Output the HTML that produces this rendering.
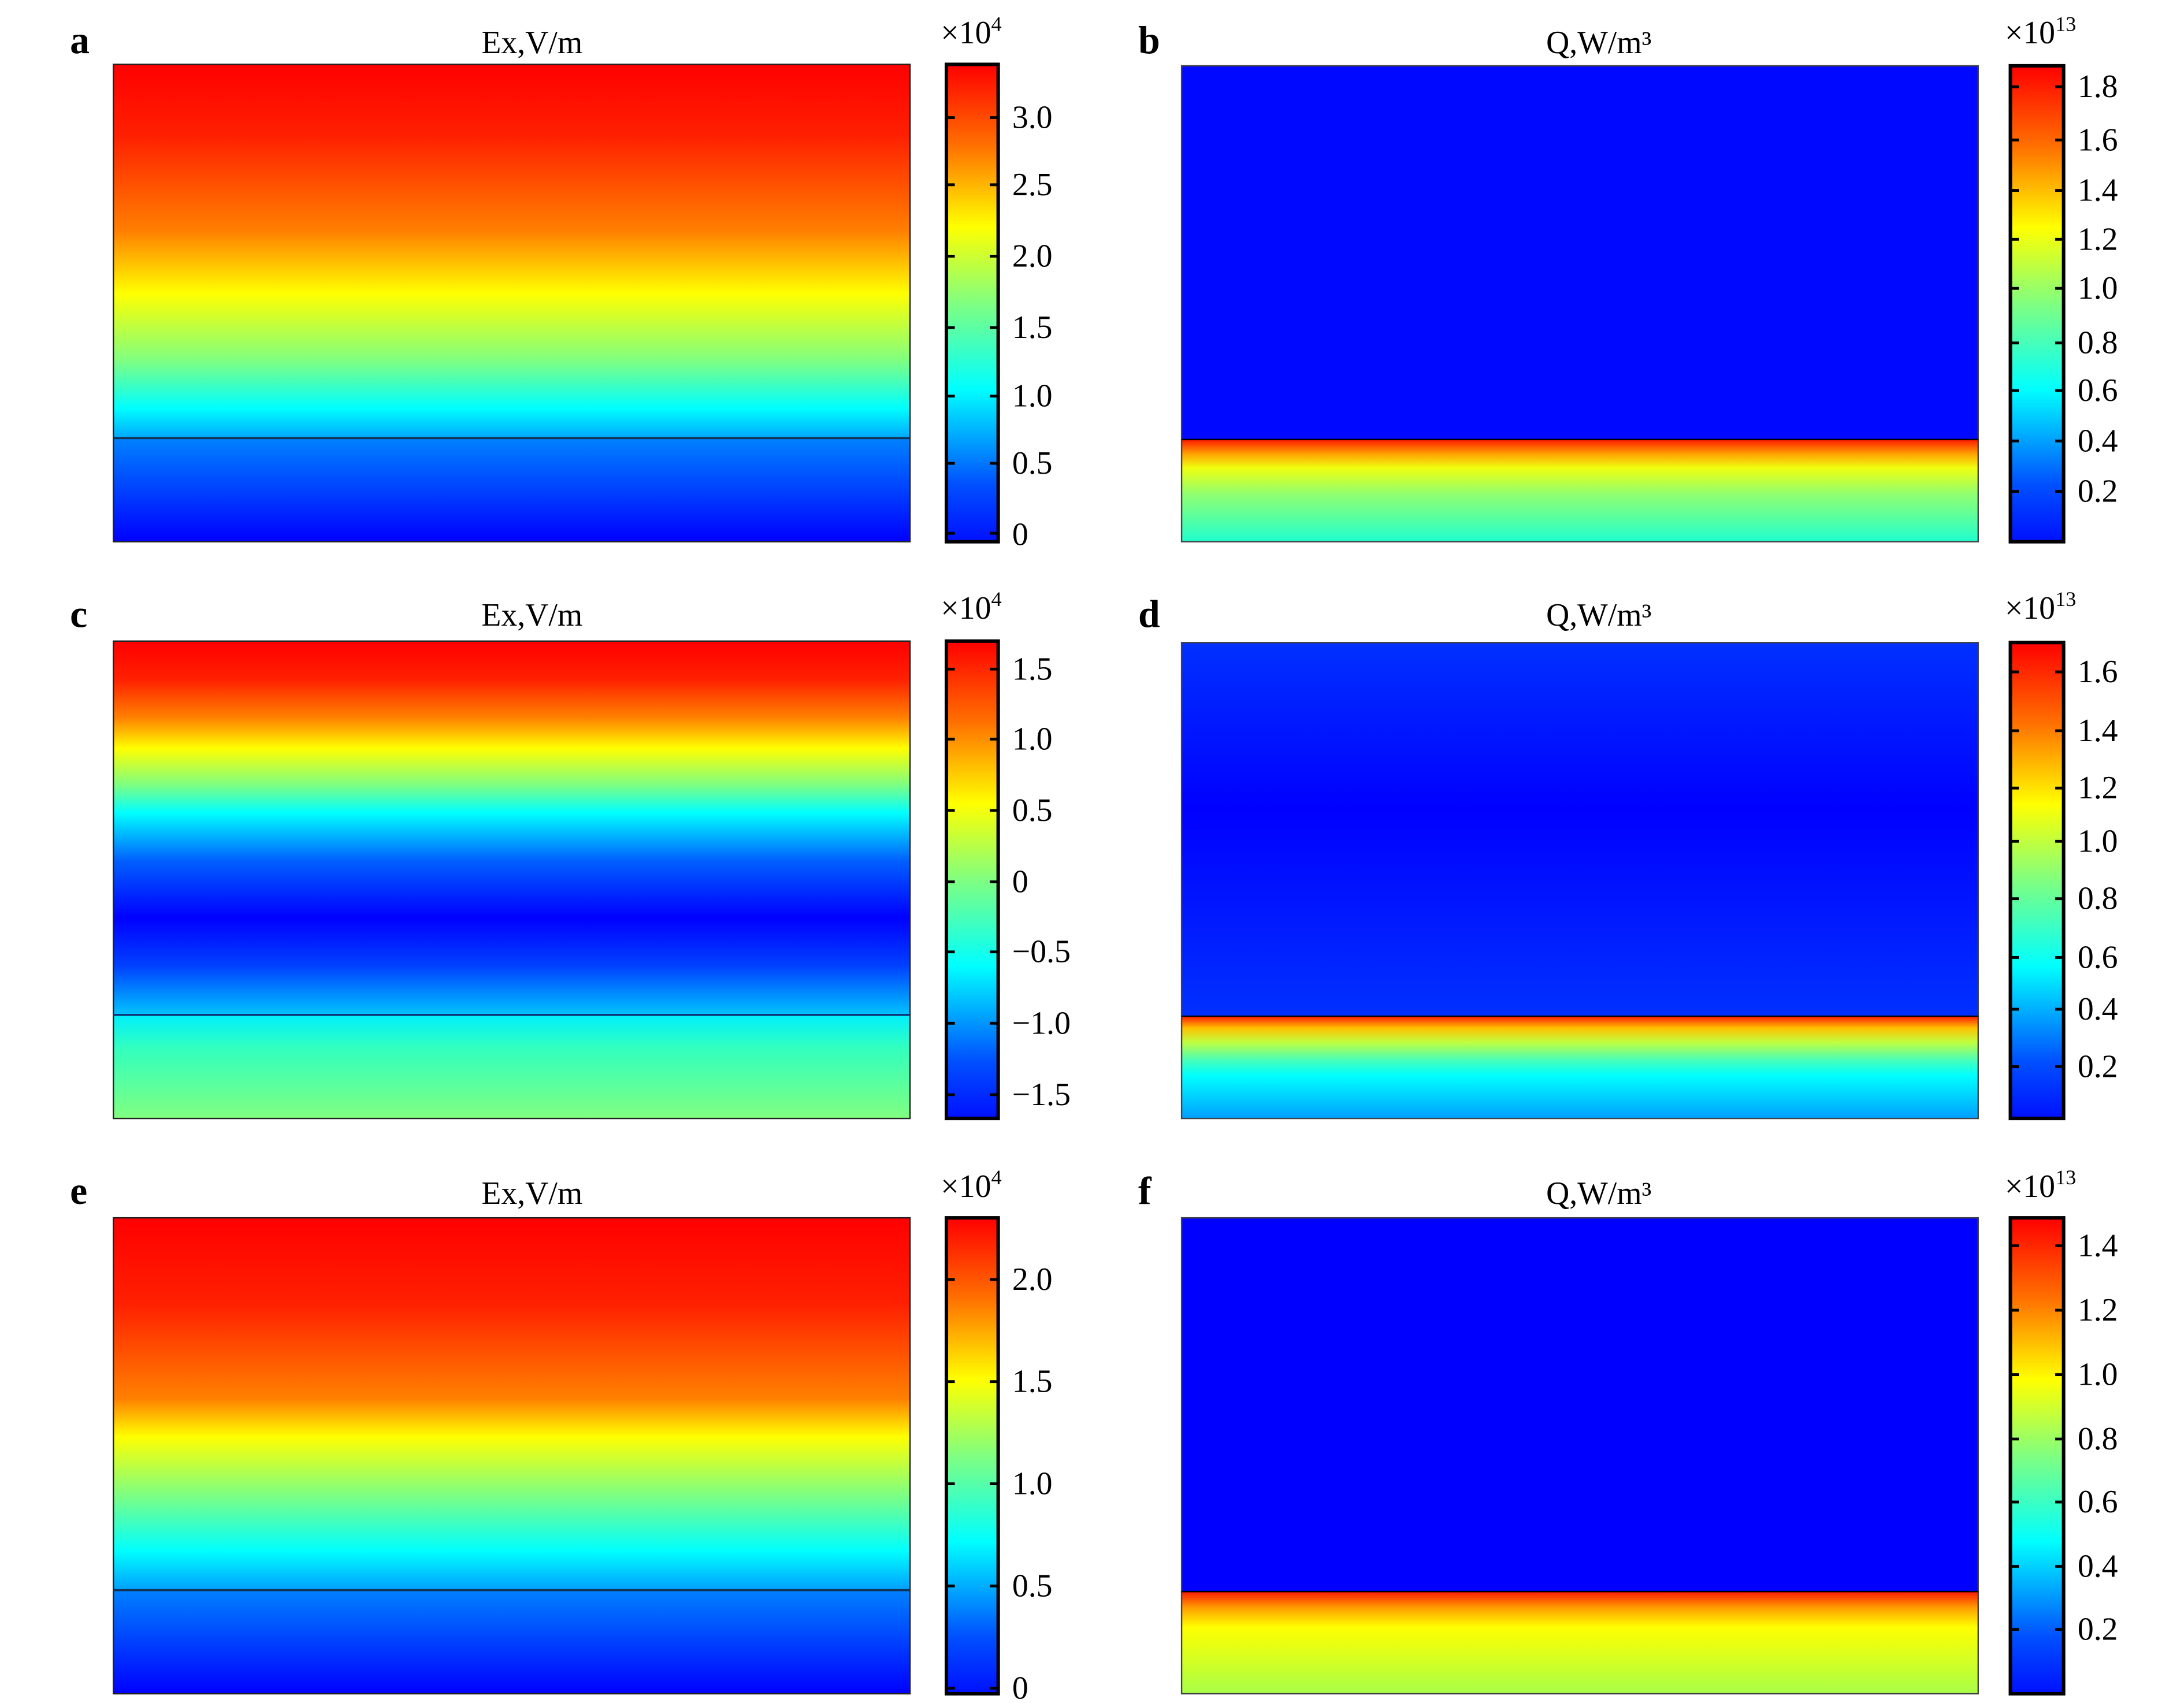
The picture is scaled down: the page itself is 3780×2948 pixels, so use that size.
<!DOCTYPE html>
<html><head><meta charset="utf-8"><style>html,body{margin:0;padding:0;background:#fff}svg{display:block}</style></head>
<body>
<svg width="3780" height="2948" viewBox="0 0 1560 1216.6" preserveAspectRatio="none" xmlns="http://www.w3.org/2000/svg" font-family="Liberation Serif, serif">
<defs>
<linearGradient id="cb" x1="0" y1="1" x2="0" y2="0">
<stop offset="0" stop-color="#0010ff"/><stop offset="0.12" stop-color="#0050ff"/><stop offset="0.32" stop-color="#00ffff"/><stop offset="0.5" stop-color="#80ff80"/><stop offset="0.66" stop-color="#ffff00"/><stop offset="0.83" stop-color="#ff7000"/><stop offset="1" stop-color="#ff0000"/>
</linearGradient>
<linearGradient id="ga" x1="0" y1="0" x2="0" y2="1">
<stop offset="0" stop-color="#ff0000"/><stop offset="0.15" stop-color="#ff2000"/><stop offset="0.35" stop-color="#ff8000"/><stop offset="0.48" stop-color="#ffff00"/><stop offset="0.62" stop-color="#80ff80"/><stop offset="0.72" stop-color="#00ffff"/><stop offset="0.783" stop-color="#00a8ff"/><stop offset="0.786" stop-color="#0080ff"/><stop offset="1" stop-color="#0000ff"/>
</linearGradient>
<linearGradient id="gb" x1="0" y1="0" x2="0" y2="1">
<stop offset="0" stop-color="#0008ff"/><stop offset="0.785" stop-color="#0008ff"/><stop offset="0.787" stop-color="#ff2000"/><stop offset="0.815" stop-color="#ffa000"/><stop offset="0.845" stop-color="#f0ff10"/><stop offset="0.9" stop-color="#90ff70"/><stop offset="1" stop-color="#20ffd0"/>
</linearGradient>
<linearGradient id="gc" x1="0" y1="0" x2="0" y2="1">
<stop offset="0" stop-color="#ff0000"/><stop offset="0.08" stop-color="#ff2000"/><stop offset="0.16" stop-color="#ff8000"/><stop offset="0.225" stop-color="#ffff00"/><stop offset="0.3" stop-color="#80ff80"/><stop offset="0.36" stop-color="#00ffff"/><stop offset="0.46" stop-color="#0060ff"/><stop offset="0.58" stop-color="#0000ff"/><stop offset="0.68" stop-color="#0040ff"/><stop offset="0.78" stop-color="#00c0ff"/><stop offset="0.783" stop-color="#00f0ff"/><stop offset="0.85" stop-color="#30ffc0"/><stop offset="1" stop-color="#80ff80"/>
</linearGradient>
<linearGradient id="gd" x1="0" y1="0" x2="0" y2="1">
<stop offset="0" stop-color="#0030ff"/><stop offset="0.35" stop-color="#0000ff"/><stop offset="0.784" stop-color="#0030ff"/><stop offset="0.786" stop-color="#ff2000"/><stop offset="0.81" stop-color="#ffc000"/><stop offset="0.84" stop-color="#c0ff40"/><stop offset="0.88" stop-color="#40ffc0"/><stop offset="0.91" stop-color="#00ffff"/><stop offset="1" stop-color="#00a0ff"/>
</linearGradient>
<linearGradient id="ge" x1="0" y1="0" x2="0" y2="1">
<stop offset="0" stop-color="#ff0000"/><stop offset="0.18" stop-color="#ff2000"/><stop offset="0.38" stop-color="#ff8000"/><stop offset="0.46" stop-color="#ffff00"/><stop offset="0.58" stop-color="#80ff80"/><stop offset="0.7" stop-color="#00ffff"/><stop offset="0.781" stop-color="#00a0ff"/><stop offset="0.784" stop-color="#0080ff"/><stop offset="1" stop-color="#0000ff"/>
</linearGradient>
<linearGradient id="gf" x1="0" y1="0" x2="0" y2="1">
<stop offset="0" stop-color="#0000ff"/><stop offset="0.785" stop-color="#0000ff"/><stop offset="0.787" stop-color="#ff2000"/><stop offset="0.82" stop-color="#ffa000"/><stop offset="0.86" stop-color="#ffff00"/><stop offset="1" stop-color="#a8ff48"/>
</linearGradient>
</defs>
<g font-size="23" fill="#000">
<text x="50" y="38" font-weight="bold" font-size="28">a</text>
<text x="380" y="38" text-anchor="middle">Ex,V/m</text>
<text x="672" y="31">×10<tspan font-size="15" dy="-9">4</tspan></text>
<rect x="81" y="46" width="569" height="341" fill="url(#ga)" stroke="#222" stroke-width="1"/>
<line x1="81" y1="313" x2="650" y2="313" stroke="#135" stroke-width="1.5"/>

<text x="813" y="38" font-weight="bold" font-size="28">b</text>
<text x="1142" y="38" text-anchor="middle">Q,W/m³</text>
<text x="1432" y="31">×10<tspan font-size="15" dy="-9">13</tspan></text>
<rect x="844" y="47" width="569" height="340" fill="url(#gb)" stroke="#444" stroke-width="1"/>
<line x1="844" y1="314" x2="1413" y2="314" stroke="#000" stroke-width="1"/>

<text x="50" y="448" font-weight="bold" font-size="28">c</text>
<text x="380" y="447" text-anchor="middle">Ex,V/m</text>
<text x="672" y="442">×10<tspan font-size="15" dy="-9">4</tspan></text>
<rect x="81" y="458" width="569" height="341" fill="url(#gc)" stroke="#222" stroke-width="1"/>
<line x1="81" y1="725" x2="650" y2="725" stroke="#137" stroke-width="1.5"/>

<text x="813" y="448" font-weight="bold" font-size="28">d</text>
<text x="1142" y="447" text-anchor="middle">Q,W/m³</text>
<text x="1432" y="442">×10<tspan font-size="15" dy="-9">13</tspan></text>
<rect x="844" y="459" width="569" height="340" fill="url(#gd)" stroke="#444" stroke-width="1"/>
<line x1="844" y1="726" x2="1413" y2="726" stroke="#000" stroke-width="1"/>

<text x="50" y="860" font-weight="bold" font-size="28">e</text>
<text x="380" y="860" text-anchor="middle">Ex,V/m</text>
<text x="672" y="855">×10<tspan font-size="15" dy="-9">4</tspan></text>
<rect x="81" y="870" width="569" height="340" fill="url(#ge)" stroke="#222" stroke-width="1"/>
<line x1="81" y1="1136" x2="650" y2="1136" stroke="#135" stroke-width="1.5"/>

<text x="813" y="860" font-weight="bold" font-size="28">f</text>
<text x="1142" y="860" text-anchor="middle">Q,W/m³</text>
<text x="1432" y="855">×10<tspan font-size="15" dy="-9">13</tspan></text>
<rect x="844" y="870" width="569" height="340" fill="url(#gf)" stroke="#444" stroke-width="1"/>
<line x1="844" y1="1137" x2="1413" y2="1137" stroke="#000" stroke-width="1"/>

<g stroke="#000" stroke-width="2.5">
<rect x="676" y="46" width="37" height="341" fill="url(#cb)"/>
<rect x="1436" y="47" width="38" height="340" fill="url(#cb)"/>
<rect x="676" y="458" width="37" height="341" fill="url(#cb)"/>
<rect x="1436" y="459" width="38" height="340" fill="url(#cb)"/>
<rect x="676" y="870" width="37" height="340" fill="url(#cb)"/>
<rect x="1436" y="870" width="38" height="340" fill="url(#cb)"/>
</g>
<g stroke="#000" stroke-width="2">
<path d="M676 84h6M707 84h6M676 132h6M707 132h6M676 183h6M707 183h6M676 234h6M707 234h6M676 283h6M707 283h6M676 331h6M707 331h6M676 381h6M707 381h6"/>
<path d="M1436 62h6M1468 62h6M1436 100h6M1468 100h6M1436 136h6M1468 136h6M1436 171h6M1468 171h6M1436 206h6M1468 206h6M1436 245h6M1468 245h6M1436 279h6M1468 279h6M1436 315h6M1468 315h6M1436 351h6M1468 351h6"/>
<path d="M676 478h6M707 478h6M676 528h6M707 528h6M676 579h6M707 579h6M676 630h6M707 630h6M676 680h6M707 680h6M676 731h6M707 731h6M676 782h6M707 782h6"/>
<path d="M1436 480h6M1468 480h6M1436 522h6M1468 522h6M1436 563h6M1468 563h6M1436 601h6M1468 601h6M1436 642h6M1468 642h6M1436 684h6M1468 684h6M1436 721h6M1468 721h6M1436 762h6M1468 762h6"/>
<path d="M676 914h6M707 914h6M676 987h6M707 987h6M676 1060h6M707 1060h6M676 1133h6M707 1133h6M676 1206h6M707 1206h6"/>
<path d="M1436 890h6M1468 890h6M1436 936h6M1468 936h6M1436 982h6M1468 982h6M1436 1028h6M1468 1028h6M1436 1073h6M1468 1073h6M1436 1119h6M1468 1119h6M1436 1164h6M1468 1164h6"/>
</g>
<g dominant-baseline="central">
<text x="723" y="84">3.0</text><text x="723" y="132">2.5</text><text x="723" y="183">2.0</text><text x="723" y="234">1.5</text><text x="723" y="283">1.0</text><text x="723" y="331">0.5</text><text x="723" y="382">0</text>
<text x="1484" y="62">1.8</text><text x="1484" y="100">1.6</text><text x="1484" y="136">1.4</text><text x="1484" y="171">1.2</text><text x="1484" y="206">1.0</text><text x="1484" y="245">0.8</text><text x="1484" y="279">0.6</text><text x="1484" y="315">0.4</text><text x="1484" y="351">0.2</text>
<text x="723" y="478">1.5</text><text x="723" y="528">1.0</text><text x="723" y="579">0.5</text><text x="723" y="630">0</text><text x="723" y="680">−0.5</text><text x="723" y="731">−1.0</text><text x="723" y="782">−1.5</text>
<text x="1484" y="480">1.6</text><text x="1484" y="522">1.4</text><text x="1484" y="563">1.2</text><text x="1484" y="601">1.0</text><text x="1484" y="642">0.8</text><text x="1484" y="684">0.6</text><text x="1484" y="721">0.4</text><text x="1484" y="762">0.2</text>
<text x="723" y="914">2.0</text><text x="723" y="987">1.5</text><text x="723" y="1060">1.0</text><text x="723" y="1133">0.5</text><text x="723" y="1206">0</text>
<text x="1484" y="890">1.4</text><text x="1484" y="936">1.2</text><text x="1484" y="982">1.0</text><text x="1484" y="1028">0.8</text><text x="1484" y="1073">0.6</text><text x="1484" y="1119">0.4</text><text x="1484" y="1164">0.2</text>
</g>
</g>
</svg>
</body></html>
